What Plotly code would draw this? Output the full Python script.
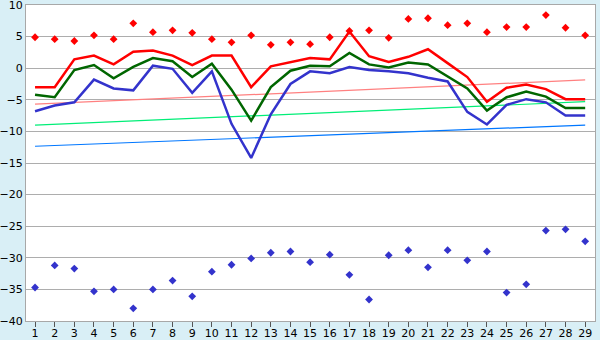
import plotly.graph_objects as go

categories = list(range(1, 30))

red_points = [4.9, 4.6, 4.3, 5.2, 4.6, 7.1, 5.7, 6.0, 5.6, 4.6, 4.1, 5.2, 3.7, 4.1, 3.8,
              4.9, 5.9, 6.0, 4.8, 7.8, 7.9, 6.8, 7.1, 5.7, 6.5, 6.5, 8.4, 6.4, 5.2]
red_line = [-3.0, -3.0, 1.4, 2.0, 0.6, 2.6, 2.8, 2.0, 0.5, 2.0, 2.0, -3.0, 0.3, 1.0, 1.6,
            1.4, 5.8, 1.9, 1.0, 1.8, 3.0, 0.8, -1.4, -5.3, -3.1, -2.6, -3.3, -4.9, -4.9]
green_line = [-4.2, -4.6, -0.3, 0.5, -1.6, 0.2, 1.6, 1.1, -1.4, 0.7, -3.4, -8.3, -3.0, -0.4, 0.4,
              0.3, 2.4, 0.6, 0.1, 0.9, 0.6, -1.3, -3.2, -6.7, -4.6, -3.7, -4.5, -6.3, -6.3]
blue_line = [-6.8, -5.9, -5.4, -1.8, -3.2, -3.5, 0.4, -0.1, -3.9, -0.5, -8.8, -14.2, -7.3, -2.5, -0.5,
             -0.8, 0.2, -0.3, -0.5, -0.8, -1.5, -2.1, -6.9, -8.9, -5.8, -4.9, -5.4, -7.5, -7.5]
blue_points = [-34.7, -31.2, -31.7, -35.3, -35.0, -38.0, -35.0, -33.6, -36.1, -32.2, -31.1, -30.1,
               -29.2, -29.0, -30.7, -29.5, -32.7, -36.6, -29.6, -28.8, -31.5, -28.8, -30.4, -29.0,
               -35.5, -34.2, -25.7, -25.5, -27.4]

# linear trend lines: value at first and last category
trend_x = [1, 29]
trend_pink = [-5.7, -1.85]
trend_lightgreen = [-9.0, -5.3]
trend_lightblue = [-12.35, -9.0]

fig = go.Figure()

for ys, col in [(trend_pink, "#FF8080"), (trend_lightgreen, "#00EE77"), (trend_lightblue, "#0077FF")]:
    fig.add_trace(go.Scatter(x=trend_x, y=ys, mode="lines", line=dict(color=col, width=1.2),
                             hoverinfo="skip", showlegend=False))

fig.add_trace(go.Scatter(x=categories, y=blue_line, mode="lines",
                         line=dict(color="#3333CC", width=2.5), showlegend=False))
fig.add_trace(go.Scatter(x=categories, y=green_line, mode="lines",
                         line=dict(color="#006600", width=2.5), showlegend=False))
fig.add_trace(go.Scatter(x=categories, y=red_line, mode="lines",
                         line=dict(color="#FF0000", width=2.5), showlegend=False))
fig.add_trace(go.Scatter(x=categories, y=red_points, mode="markers",
                         marker=dict(symbol="diamond", size=6, color="#FF0000"), showlegend=False))
fig.add_trace(go.Scatter(x=categories, y=blue_points, mode="markers",
                         marker=dict(symbol="diamond", size=6, color="#3333CC"), showlegend=False))

font = dict(family="DejaVu Sans", size=11, color="#000000")

fig.update_layout(
    width=600, height=340,
    margin=dict(l=26, r=5, t=5, b=19, autoexpand=False),
    paper_bgcolor="#D9EFF6",
    plot_bgcolor="#FFFFFF",
    font=font,
    xaxis=dict(range=[0.54, 29.5], tickmode="array", tickvals=categories,
               ticktext=[str(c) for c in categories], showgrid=False, zeroline=False,
               showline=True, linecolor="#A8A8A8", linewidth=1, mirror=True, automargin=False,
               ticks="outside", ticklen=5, tickcolor="#555555", tickfont=font,
               ticklabeloverflow="allow", ticklabelstandoff=-3),
    yaxis=dict(range=[-40, 10], tickmode="array", tickvals=list(range(-40, 11, 5)),
               ticktext=[("\u2212" + str(-v)) if v < 0 else str(v) for v in range(-40, 11, 5)],
               showgrid=True, gridcolor="#ADADAD", gridwidth=1, zeroline=False, automargin=False,
               showline=True, linecolor="#A8A8A8", linewidth=1, mirror=True,
               ticks="", ticklabelstandoff=0, tickfont=font, ticklabeloverflow="allow"),
)

fig.write_html("out.html", config={"displayModeBar": False},
               post_script="document.body.style.margin='0';document.body.style.background='#D9EFF6';")
